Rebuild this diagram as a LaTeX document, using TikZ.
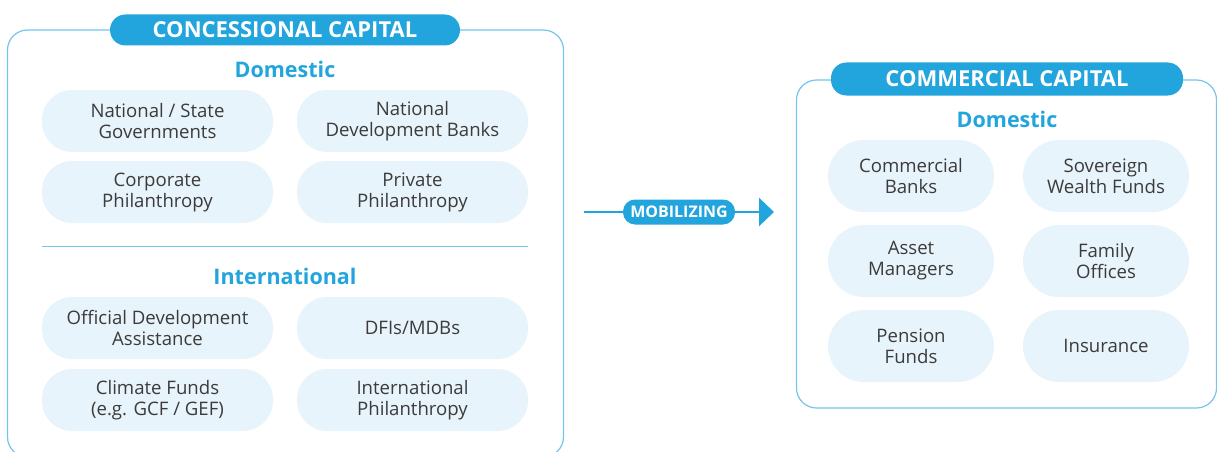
\documentclass[tikz,border=0pt]{standalone}
\usepackage{fontspec}
\setmainfont{Open Sans}
\usetikzlibrary{arrows.meta}
\definecolor{capblue}{HTML}{22A4DC}
\definecolor{frameblue}{HTML}{74C5EA}
\definecolor{pillfill}{HTML}{E8F4FB}
\definecolor{pilltext}{HTML}{3B3B3B}
\begin{document}
\begin{tikzpicture}[x=1pt,y=-1pt,
			capbox/.style={draw=frameblue, line width=1.2pt, rounded corners=20pt, inner sep=0pt},
			captitle/.style={fill=capblue, text=white, rounded corners=15.5pt, inner sep=0pt, font=\bfseries\fontsize{22}{26}\selectfont},
			subhead/.style={text=capblue, font=\bfseries\fontsize{21.5}{25}\selectfont},
			pill/.style={fill=pillfill, rounded corners=30pt, minimum width=231pt, minimum height=62pt, inner sep=0pt, align=center, text=pilltext, font=\fontsize{18.6}{21}\selectfont},
			spill/.style={pill, rounded corners=36pt, minimum width=166pt, minimum height=72pt},
			mobpill/.style={fill=capblue, text=white, rounded corners=12pt, minimum width=112pt, minimum height=25pt, inner sep=0pt, font=\bfseries\fontsize{16}{18}\selectfont}
			]
			\useasboundingbox (0,0) rectangle (1217,452);
			%%%%%%%%%%%%%%% concessional
			\node[capbox, minimum width=556pt, minimum height=427pt] (conc) at (285.5,243.5) {};
			\node[captitle, minimum width=350pt, minimum height=31pt] (conct) at (285,30) {CONCESSIONAL CAPITAL};
			\node[subhead] (cdom) at (285,69) {Domestic};
			\node[pill] (natgov) at (157.5,121) {National / State\\Governments};
			\node[pill] (natdev) at (412.5,121) {National\\Development Banks};
			\node[pill] (corph) at (157.5,192) {Corporate\\Philanthropy};
			\node[pill] (priph) at (412.5,192) {Private\\Philanthropy};
			\coordinate (divl) at (42,246);
			\coordinate (divr) at (528,246);
			\draw[frameblue, line width=1pt] (divl) -- (divr);
			\node[subhead] (cint) at (285,276) {International};
			\node[pill] (oda) at (157.5,328) {Official Development\\Assistance};
			\node[pill] (dfis) at (412.5,328) {DFIs/MDBs};
			\node[pill] (climf) at (157.5,400) {Climate Funds\\(e.g. GCF / GEF)};
			\node[pill] (intph) at (412.5,400) {International\\Philanthropy};
			%%%%%%%%%%%%%%% commercial
			\node[capbox, minimum width=420pt, minimum height=328pt] (comm) at (1006.5,244) {};
			\node[captitle, minimum width=352pt, minimum height=33pt] (commt) at (1007,79) {COMMERCIAL CAPITAL};
			\node[subhead] (mdom) at (1007,119) {Domestic};
			\node[spill] (combk) at (911,176) {Commercial\\Banks};
			\node[spill] (swf) at (1106,176) {Sovereign\\Wealth Funds};
			\node[spill] (asset) at (911,261) {Asset\\Managers};
			\node[spill] (famo) at (1106,261) {Family\\Offices};
			\node[spill] (pens) at (911,346) {Pension\\Funds};
			\node[spill] (insur) at (1106,346) {Insurance};
			%%%%%%%%%%%%%%% arrow
			\coordinate (mstart) at (584,212);
			\coordinate (mend) at (774,212);
			\draw[capblue, line width=2.6pt, -{Triangle[length=15pt,width=28pt]}] (mstart) -- node[mobpill] (mob) {MOBILIZING} (mend);
		\end{tikzpicture}
\end{document}
